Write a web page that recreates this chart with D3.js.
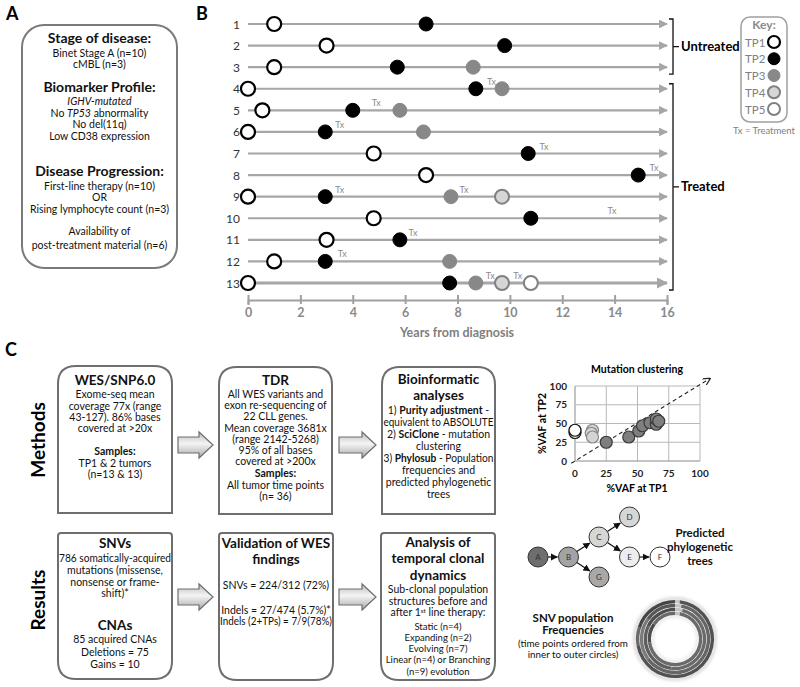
<!DOCTYPE html>
<html><head><meta charset="utf-8">
<script src="https://cdn.jsdelivr.net/npm/d3@7"></script>
<style>
body{margin:0;background:#fff}
svg{display:block}
text{font-family:Lato,"Open Sans",sans-serif}
</style>
</head><body>
<svg id="c" width="800" height="687"></svg>
<script>
// ================= DATA =================
// Panel B: time points (years from diagnosis) per patient
const patients = ["1","2","3","4","5","6","7","8","9","10","11","12","13"];
const tp1 = [1.0, 3.0, 1.0, 0.0, 0.55, 0.0, 4.8, 6.8, 0.0, 4.8, 3.0, 1.0, 0.0];
const tp2 = [6.8, 9.8, 5.7, 8.7, 4.0, 2.95, 10.7, 14.9, 2.95, 10.8, 5.8, 2.95, 7.7];
const tp3 = [null, null, 8.6, 9.7, 5.8, 6.7, null, null, 7.75, null, null, 7.7, 8.7];
const tp4 = [null, null, null, null, null, null, null, null, 9.7, null, null, null, 9.7];
const tp5 = [null, null, null, null, null, null, null, null, null, null, null, null, 10.8];
const txTimes = [[],[],[],[9.3],[4.9],[3.5],[11.3],[15.5],[3.5,8.25],[13.9],[6.3],[3.6],[9.25,10.3]];
const yearTicks = [0,2,4,6,8,10,12,14,16];
const keyLabels = ["TP1","TP2","TP3","TP4","TP5"];

// Panel C: mutation clustering (%VAF at TP1, %VAF at TP2)
const clusterWhite = [[0,38],[0,41]];
const clusterLight = [[14,41],[13,37],[14,32]];
const clusterDark = [[25,25],[43,32],[51,40],[54,47],[60,51],[65,49],[65,56],[67,53]];
const vafTicks = [0,25,50,75,100];

// Phylogenetic tree
const treeData = {name:"A", children:[{name:"B", children:[
  {name:"C", children:[{name:"D"},{name:"E", children:[{name:"F"}]}]},
  {name:"G"}]}]};
const treeShade = {A:"#6e6e6e", B:"#a3a3a3", C:"#d6d6d6", D:"#d6d6d6", E:"#ededed", F:"#ffffff", G:"#a8a8a8"};

// SNV population frequency rings (inner to outer), segment sizes and shade
const ringValues = [
  [3, 70, 12, 15],
  [4, 48, 30, 18],
  [3, 62, 20, 15],
  [2, 70, 8, 20]
];
const ringShades = [
  ["#c4c4c4","#6a6a6a","#4e4e4e","#6a6a6a"],
  ["#c4c4c4","#6a6a6a","#5e5e5e","#4e4e4e"],
  ["#c4c4c4","#666666","#7a7a7a","#585858"],
  ["#c4c4c4","#525252","#6a6a6a","#464646"]
];

// ================= DRAW =================
const svg = d3.select("#c");
const defs = svg.append("defs");
defs.append("marker").attr("id","ga").attr("viewBox","0 0 10 10").attr("refX",9).attr("refY",5)
  .attr("markerWidth",4).attr("markerHeight",4).attr("orient","auto").attr("markerUnits","strokeWidth")
  .append("path").attr("d","M0,0 L10,5 L0,10 Z").attr("fill","#a6a6a6");
defs.append("marker").attr("id","ba").attr("viewBox","0 0 10 10").attr("refX",9).attr("refY",5)
  .attr("markerWidth",6).attr("markerHeight",6).attr("orient","auto").attr("markerUnits","strokeWidth")
  .append("path").attr("d","M0,0 L10,5 L0,10 Z").attr("fill","#111");
defs.append("marker").attr("id","da").attr("viewBox","0 0 10 10").attr("refX",9).attr("refY",5)
  .attr("markerWidth",7).attr("markerHeight",7).attr("orient","auto").attr("markerUnits","strokeWidth")
  .append("path").attr("d","M0,0 L10,5 L0,10").attr("fill","none").attr("stroke","#222").attr("stroke-width",1.5);
const grad = defs.append("linearGradient").attr("id","ag").attr("x1",0).attr("y1",0).attr("x2",0).attr("y2",1);
grad.append("stop").attr("offset","0%").attr("stop-color","#bdbdbd");
grad.append("stop").attr("offset","45%").attr("stop-color","#f4f4f4");
grad.append("stop").attr("offset","100%").attr("stop-color","#a8a8a8");
const blur = defs.append("filter").attr("id","glow").attr("x","-30%").attr("y","-30%").attr("width","160%").attr("height","160%");
blur.append("feGaussianBlur").attr("stdDeviation",1.5);

function label(t,x,y){svg.append("text").attr("x",x).attr("y",y).attr("font-size",18).attr("font-weight",700).text(t);}
label("A",6,20); label("B",196,20); label("C",5,356);

// text helper: lines = [[y, [[text, style],...], size, weight]]
function block(g, cx, lines, maxW){
  lines.forEach(([y, segs, size, weight])=>{
    const t = g.append("text").attr("x",cx).attr("y",y).attr("text-anchor","middle")
      .attr("font-size",size).attr("font-weight",weight||400).attr("fill","#111");
    segs.forEach(s=>{
      const sp = t.append("tspan").text(s[0]);
      if(s[1].includes("b")) sp.attr("font-weight",700);
      if(s[1].includes("i")) sp.attr("font-style","italic");
      if(s[1].includes("u")) { sp.attr("baseline-shift","super").attr("font-size",size*0.6); }
    });
    if(maxW){ const w=t.node().getComputedTextLength(); if(w>maxW){ t.attr("textLength",maxW).attr("lengthAdjust","spacingAndGlyphs"); } }
  });
}

// ---------- Panel A ----------
const gA = svg.append("g");
gA.append("rect").attr("x",22).attr("y",25).attr("width",155).attr("height",243).attr("rx",22)
  .attr("fill","#fff").attr("stroke","#7a7a7a").attr("stroke-width",2);
block(gA, 99.5, [
  [43,[["Stage of disease:","b"]],14],
  [57,[["Binet Stage A (n=10)",""]],10.5],
  [68,[["cMBL (n=3)",""]],10.5],
  [92,[["Biomarker Profile:","b"]],14],
  [105,[["IGHV-mutated","i"]],10.5],
  [117,[["No ",""],["TP53","i"],[" abnormality",""]],10.5],
  [128,[["No del(11q)",""]],10.5],
  [140,[["Low CD38 expression",""]],10.5],
  [176,[["Disease Progression:","b"]],14],
  [190,[["First-line therapy (n=10)",""]],10.5],
  [201,[["OR",""]],10.5],
  [213,[["Rising lymphocyte count (n=3)",""]],10.5],
  [235,[["Availability of",""]],10.5],
  [249,[["post-treatment material (n=6)",""]],10.5]
], 148);

// ---------- Panel B ----------
const gB = svg.append("g");
const x = d3.scaleLinear().domain([0,16]).range([248,667]);
const y = d3.scalePoint().domain(patients).range([24,283]);

gB.selectAll("line.row").data(patients).join("line").attr("class","row")
  .attr("x1",x(0)).attr("x2",x(16)).attr("y1",d=>y(d)).attr("y2",d=>y(d))
  .attr("stroke","#a6a6a6").attr("stroke-width",(d,i)=>i===12?2.8:2.2).attr("marker-end","url(#ga)");

gB.selectAll("text.rl").data(patients).join("text").attr("class","rl")
  .attr("x",240).attr("y",d=>y(d)+4.5).attr("text-anchor","end")
  .attr("font-size",12).attr("fill","#333").attr("font-family","'DejaVu Sans',sans-serif").text(d=>d);

// axis
const axis = gB.append("g").attr("transform","translate(0,300)")
  .call(d3.axisBottom(x).tickValues(yearTicks).tickSize(5).tickPadding(3));
axis.select(".domain").attr("stroke","#a0a0a0").attr("stroke-width",2);
axis.selectAll(".tick line").attr("y1",-5).attr("y2",4).attr("stroke","#a0a0a0").attr("stroke-width",2);
axis.selectAll(".tick text").attr("font-size",12.5).attr("font-weight",700).attr("fill","#8a8a8a")
  .attr("font-family","Lato,sans-serif");
gB.append("text").attr("x",457).attr("y",337).attr("text-anchor","middle").attr("font-size",12.5)
  .attr("font-weight",700).attr("fill","#808080").text("Years from diagnosis");

// tp styles
const tpStyle = [
  {fill:"#fff", stroke:"#000", sw:2.2},
  {fill:"#000", stroke:"#000", sw:1},
  {fill:"#888", stroke:"#888", sw:1},
  {fill:"#d6d6d6", stroke:"#808080", sw:2},
  {fill:"#fff", stroke:"#808080", sw:2}
];
const allTP = [tp1,tp2,tp3,tp4,tp5];
allTP.forEach((arr,k)=>{
  const pts = arr.map((v,i)=>({v,p:patients[i]})).filter(d=>d.v!==null);
  gB.selectAll(null).data(pts).join("circle")
    .attr("cx",d=>x(d.v)).attr("cy",d=>y(d.p)).attr("r",7)
    .attr("fill",tpStyle[k].fill).attr("stroke",tpStyle[k].stroke).attr("stroke-width",tpStyle[k].sw);
});
const txPts = [];
txTimes.forEach((arr,i)=>arr.forEach(v=>txPts.push({v,p:patients[i]})));
gB.selectAll("text.tx").data(txPts).join("text").attr("class","tx")
  .attr("x",d=>x(d.v)).attr("y",d=>y(d.p)-4).attr("text-anchor","middle")
  .attr("font-size",9).attr("fill","#8a8a8a").text("Tx");

// brackets
function bracket(p0,p1,lab){
  const y0=y(p0)-5, y1=y(p1)+7, ym=(y0+y1)/2;
  gB.append("path").attr("d",`M669,${y0}H673V${y1}H669M673,${ym}H679`).attr("fill","none")
    .attr("stroke","#111").attr("stroke-width",1.3);
  gB.append("text").attr("x",681).attr("y",ym+4.5).attr("font-size",13).attr("font-weight",700).text(lab);
}
bracket("1","3","Untreated");
bracket("4","13","Treated");

// key
const gK = svg.append("g");
gK.append("rect").attr("x",741).attr("y",17).attr("width",46).attr("height",105).attr("rx",9)
  .attr("fill","#fff").attr("stroke","#a0a0a0").attr("stroke-width",1.5);
gK.append("text").attr("x",764).attr("y",29).attr("text-anchor","middle").attr("font-size",12)
  .attr("font-weight",700).attr("fill","#8a8a8a").text("Key:");
const ky = d3.scalePoint().domain(keyLabels).range([42,109]);
gK.selectAll("text.kl").data(keyLabels).join("text").attr("class","kl").attr("x",745).attr("y",d=>ky(d)+4.5)
  .attr("font-size",11.5).attr("fill","#808080").text(d=>d);
gK.selectAll("circle").data(keyLabels).join("circle").attr("cx",774).attr("cy",d=>ky(d)).attr("r",6)
  .attr("fill",(d,i)=>tpStyle[i].fill).attr("stroke",(d,i)=>tpStyle[i].stroke).attr("stroke-width",(d,i)=>tpStyle[i].sw);
gK.append("text").attr("x",764).attr("y",134).attr("text-anchor","middle").attr("font-size",9.5)
  .attr("fill","#808080").text("Tx = Treatment");

// ---------- Panel C ----------
const gC = svg.append("g");
function vlabel(t,cx,cy){gC.append("text").attr("transform",`translate(${cx+7},${cy}) rotate(-90)`)
  .attr("text-anchor","middle").attr("font-size",19).attr("font-weight",700).text(t);}
vlabel("Methods",38,440); vlabel("Results",38,600);

function boxTop(x0,y0,x1,y1,r){return `M${x0},${y1}V${y0+r}Q${x0},${y0} ${x0+r},${y0}H${x1-r}Q${x1},${y0} ${x1},${y0+r}V${y1}Z`;}
function boxBot(x0,y0,x1,y1,r){return `M${x0},${y0+3}Q${x0},${y0} ${x0+3},${y0}H${x1-3}Q${x1},${y0} ${x1},${y0+3}V${y1-r}Q${x1},${y1} ${x1-r},${y1}H${x0+r}Q${x0},${y1} ${x0},${y1-r}Z`;}
function box(d){gC.append("path").attr("d",d).attr("fill","#fff").attr("stroke","#6e6e6e").attr("stroke-width",2);}
box(boxTop(58,366,172,513,18)); box(boxTop(219,367,332,514,18)); box(boxTop(382,367,495,514,18));
box(boxBot(58,533,172,679,18)); box(boxBot(219,533,333,680,18)); box(boxBot(381,533,495,680,18));

function barrow(x0,x1,yc){
  gC.append("path").attr("d",`M${x0},${yc-8}H${x1-14}V${yc-13}L${x1},${yc}L${x1-14},${yc+13}V${yc+8}H${x0}Z`)
    .attr("fill","url(#ag)").attr("stroke","#6e6e6e").attr("stroke-width",1.2);
}
barrow(178,213,445); barrow(339,376,445); barrow(178,213,597); barrow(339,376,597);

const S=10.5, H=13.5;
block(gC,115,[
  [385,[["WES/SNP6.0","b"]],H],
  [398,[["Exome-seq  mean",""]],S],
  [410,[["coverage 77x (range",""]],S],
  [421,[["43-127). 86% bases",""]],S],
  [432,[["covered at >20x",""]],S],
  [455,[["Samples:","b"]],S],
  [467,[["TP1 & 2 tumors",""]],S],
  [478,[["(n=13 & 13)",""]],S]
],110);
block(gC,275.5,[
  [385,[["TDR","b"]],H],
  [398,[["All WES variants and",""]],S],
  [409,[["exon re-sequencing of",""]],S],
  [420,[["22 CLL genes.",""]],S],
  [432,[["Mean coverage 3681x",""]],S],
  [443,[["(range 2142-5268)",""]],S],
  [454,[["95% of all bases",""]],S],
  [465,[["covered at >200x",""]],S],
  [477,[["Samples:","b"]],S],
  [489,[["All tumor time points",""]],S],
  [500,[["(n= 36)",""]],S]
],110);
block(gC,438.5,[
  [384,[["Bioinformatic","b"]],H],
  [400,[["analyses","b"]],H],
  [414,[["1) ",""],["Purity adjustment","b"],[" -",""]],S],
  [426,[["equivalent to ABSOLUTE",""]],S],
  [438,[["2) ",""],["SciClone","b"],[" - mutation",""]],S],
  [450,[["clustering",""]],S],
  [462,[["3) ",""],["Phylosub","b"],[" - Population",""]],S],
  [474,[["frequencies and",""]],S],
  [486,[["predicted phylogenetic",""]],S],
  [498,[["trees",""]],S]
],110);
block(gC,115,[
  [548,[["SNVs","b"]],H],
  [562,[["786 somatically-acquired",""]],S],
  [574,[["mutations (missense,",""]],S],
  [586,[["nonsense or frame-",""]],S],
  [597,[["shift)*",""]],S],
  [630,[["CNAs","b"]],H],
  [643,[["85 acquired CNAs",""]],S],
  [656,[["Deletions = 75",""]],S],
  [668,[["Gains = 10",""]],S]
],112);
block(gC,276,[
  [548,[["Validation of WES","b"]],H],
  [564,[["findings","b"]],H],
  [589,[["SNVs = 224/312 (72%)",""]],S],
  [614,[["Indels = 27/474 (5.7%)*",""]],S],
  [625,[["Indels (2+TPs) = 7/9(78%)",""]],S]
],112);
block(gC,438,[
  [547,[["Analysis of","b"]],H],
  [563,[["temporal clonal","b"]],H],
  [580,[["dynamics","b"]],H],
  [593,[["Sub-clonal population",""]],S],
  [605,[["structures before and",""]],S],
  [616,[["after 1",""],["st","u"],[" line therapy:",""]],S],
  [630,[["Static (n=4)",""]],9.5],
  [641,[["Expanding (n=2)",""]],9.5],
  [652,[["Evolving (n=7)",""]],9.5],
  [663,[["Linear (n=4) or Branching",""]],9.5],
  [675,[["(n=9) evolution",""]],9.5]
],110);

// ---------- scatter: mutation clustering ----------
const gS = svg.append("g");
const sx = d3.scaleLinear().domain([0,100]).range([575,700]);
const sy = d3.scaleLinear().domain([0,100]).range([461,386]);
gS.selectAll("line.gv").data(vafTicks).join("line").attr("class","gv")
  .attr("x1",d=>sx(d)).attr("x2",d=>sx(d)).attr("y1",sy(0)).attr("y2",sy(100))
  .attr("stroke",d=>d===0?"#8a8a8a":"#b8b8b8").attr("stroke-width",1);
gS.selectAll("line.gh").data(vafTicks).join("line").attr("class","gh")
  .attr("y1",d=>sy(d)).attr("y2",d=>sy(d)).attr("x1",sx(0)).attr("x2",sx(100))
  .attr("stroke",d=>d===0?"#8a8a8a":"#b8b8b8").attr("stroke-width",1);
gS.selectAll("text.yt").data(vafTicks).join("text").attr("class","yt")
  .attr("x",sx(0)-8).attr("y",d=>sy(d)+3.5).attr("text-anchor","end").attr("font-size",10).attr("font-weight",700).attr("fill","#222").text(d=>d);
gS.selectAll("text.xt").data(vafTicks).join("text").attr("class","xt")
  .attr("x",d=>sx(d)).attr("y",sy(0)+16).attr("text-anchor","middle").attr("font-size",10).attr("font-weight",700).attr("fill","#222").text(d=>d);
gS.append("text").attr("x",637).attr("y",373).attr("text-anchor","middle").attr("font-size",10.5).attr("font-weight",700).text("Mutation clustering");
gS.append("text").attr("x",637).attr("y",492).attr("text-anchor","middle").attr("font-size",10.5).attr("font-weight",700).text("%VAF at TP1");
gS.append("text").attr("transform",`translate(546,${sy(50)}) rotate(-90)`).attr("text-anchor","middle").attr("font-size",10.5).attr("font-weight",700).text("%VAF at TP2");
gS.append("line").attr("x1",sx(-3)).attr("y1",sy(-3)).attr("x2",sx(108)).attr("y2",sy(110))
  .attr("stroke","#222").attr("stroke-width",1.1).attr("stroke-dasharray","4,3").attr("marker-end","url(#da)");
function dots(data,fill,stroke){
  gS.selectAll(null).data(data).join("circle").attr("cx",d=>sx(d[0])).attr("cy",d=>sy(d[1])).attr("r",6)
    .attr("fill",fill).attr("stroke",stroke).attr("stroke-width",1.2);
}
dots(clusterDark,"#7f7f7f","#3a3a3a");
dots(clusterLight,"#d4d4d4","#888");
dots(clusterWhite,"#fff","#111");

// ---------- phylogenetic tree ----------
const gT = svg.append("g");
const root = d3.hierarchy(treeData);
d3.tree().nodeSize([40,30]).separation(()=>1)(root);
const ax0 = 538, ay0 = 557 - root.x;
const nodes = root.descendants();
gT.selectAll("line").data(root.links()).join("line")
  .each(function(l){
    const sx0=ax0+l.source.depth*30.5, sy0=ay0+l.source.x, tx=ax0+l.target.depth*30.5, ty=ay0+l.target.x;
    const dx=tx-sx0, dy=ty-sy0, L=Math.hypot(dx,dy), r=10;
    d3.select(this).attr("x1",sx0+dx/L*r).attr("y1",sy0+dy/L*r).attr("x2",tx-dx/L*(r+1)).attr("y2",ty-dy/L*(r+1));
  })
  .attr("stroke","#111").attr("stroke-width",1.2).attr("marker-end","url(#ba)");
gT.selectAll("circle").data(nodes).join("circle")
  .attr("cx",d=>ax0+d.depth*30.5).attr("cy",d=>ay0+d.x).attr("r",10)
  .attr("fill",d=>treeShade[d.data.name]).attr("stroke","#333").attr("stroke-width",1);
gT.selectAll("text").data(nodes).join("text")
  .attr("x",d=>ax0+d.depth*30.5).attr("y",d=>ay0+d.x+3).attr("text-anchor","middle")
  .attr("font-size",8).attr("fill","#333").text(d=>d.data.name);
block(gT,700,[
  [537,[["Predicted","b"]],11.5],
  [551,[["phylogenetic","b"]],11.5],
  [565,[["trees","b"]],11.5]
]);

// ---------- SNV population rings ----------
const gR = svg.append("g").attr("transform","translate(675,639)");
gR.append("circle").attr("r",40.5).attr("fill","none").attr("stroke","#d8d8d8").attr("stroke-width",3).attr("filter","url(#glow)");
gR.append("circle").attr("r",22.5).attr("fill","none").attr("stroke","#e0e0e0").attr("stroke-width",2).attr("filter","url(#glow)");
const pie = d3.pie().sort(null).value(d=>d);
ringValues.forEach((vals,i)=>{
  const r0 = 24 + i*3.9, r1 = r0 + 3.4;
  const arc = d3.arc().innerRadius(r0).outerRadius(r1);
  gR.selectAll(null).data(pie(vals)).join("path").attr("d",arc)
    .attr("fill",(d,j)=>ringShades[i][j]);
});
block(svg.append("g"),573,[
  [622,[["SNV population","b"]],11.5],
  [634,[["Frequencies","b"]],11.5],
  [647,[["(time points ordered from",""]],9.8],
  [658,[["inner to outer circles)",""]],9.8]
]);
</script>
</body></html>
